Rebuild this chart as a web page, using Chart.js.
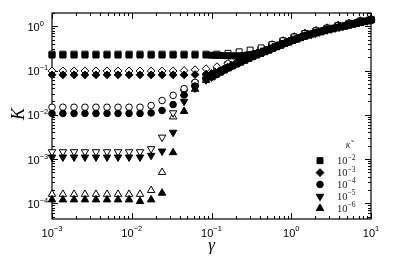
<!DOCTYPE html>
<html>
<head>
<meta charset="UTF-8">
<title>K vs gamma</title>
<script src="https://cdn.jsdelivr.net/npm/chart.js"></script>
<style>
  body { margin: 0; background: #fff; }
  canvas { display: block; }
</style>
</head>
<body>
<canvas id="grafico" width="399" height="260"></canvas>
<script>
// gamma values of the open symbols (coarse grid)
const gammaOpen = [0.001, 0.00137, 0.00189, 0.00259, 0.00356, 0.0049, 0.00673, 0.00925, 0.0127, 0.0175,
  0.024, 0.033, 0.0453, 0.0622, 0.0855, 0.117, 0.161, 0.222, 0.305, 0.419,
  0.575, 0.791, 1.09, 1.49, 2.05, 2.82, 3.87, 5.32, 7.31, 10.0];
// gamma values of the filled symbols (coarse, then dense above 0.1)
const gammaFilled = [0.001, 0.00137, 0.00189, 0.00259, 0.00356, 0.0049, 0.00673, 0.00925, 0.0127, 0.0175,
  0.024, 0.033, 0.0453, 0.0622, 0.0855,
  0.1, 0.112, 0.126, 0.141, 0.158, 0.178, 0.2, 0.224, 0.251, 0.282,
  0.316, 0.355, 0.398, 0.447, 0.501, 0.562, 0.631, 0.708, 0.794, 0.891,
  1.0, 1.12, 1.26, 1.41, 1.58, 1.78, 2.0, 2.24, 2.51, 2.82,
  3.16, 3.55, 3.98, 4.47, 5.01, 5.62, 6.31, 7.08, 7.94, 8.91, 10.0];

// kappa~ = 1e-2 (squares)
const kSqFilled = [0.224, 0.224, 0.224, 0.224, 0.224, 0.224, 0.224, 0.224, 0.224, 0.224,
  0.224, 0.224, 0.224, 0.224, 0.224,
  0.222, 0.221, 0.220, 0.218, 0.216, 0.215, 0.214, 0.215, 0.218, 0.224,
  0.232, 0.243, 0.257, 0.275, 0.297, 0.322, 0.350, 0.378, 0.41, 0.443,
  0.478, 0.512, 0.553, 0.592, 0.633, 0.67, 0.708, 0.748, 0.792, 0.838,
  0.876, 0.917, 0.96, 1.0, 1.05, 1.11, 1.16, 1.22, 1.27, 1.32, 1.38];
const kSqOpen = [0.235, 0.235, 0.235, 0.235, 0.235, 0.235, 0.235, 0.235, 0.235, 0.235,
  0.235, 0.235, 0.235, 0.235, 0.235, 0.235, 0.245, 0.265, 0.29, 0.325,
  0.385, 0.47, 0.575, 0.69, 0.79, 0.91, 1.04, 1.17, 1.31, 1.44];
// kappa~ = 1e-3 (diamonds)
const kDiFilled = [0.08, 0.08, 0.08, 0.08, 0.08, 0.08, 0.08, 0.08, 0.08, 0.08,
  0.08, 0.08, 0.08, 0.081, 0.083,
  0.086, 0.091, 0.099, 0.108, 0.119, 0.131, 0.144, 0.158, 0.173, 0.189,
  0.207, 0.227, 0.246, 0.266, 0.288, 0.312, 0.342, 0.37, 0.40, 0.434,
  0.47, 0.503, 0.545, 0.584, 0.626, 0.663, 0.702, 0.743, 0.787, 0.834,
  0.873, 0.914, 0.956, 1.0, 1.05, 1.11, 1.16, 1.22, 1.27, 1.32, 1.38];
const kDiOpen = [0.098, 0.098, 0.098, 0.098, 0.098, 0.098, 0.098, 0.098, 0.098, 0.098,
  0.098, 0.098, 0.1, 0.104, 0.11, 0.122, 0.145, 0.186, 0.238, 0.30,
  0.378, 0.466, 0.572, 0.69, 0.792, 0.91, 1.045, 1.172, 1.315, 1.44];
// kappa~ = 1e-4 (circles)
const kCiFilled = [0.0107, 0.0107, 0.0107, 0.0107, 0.0107, 0.0107, 0.0107, 0.0107, 0.0107, 0.011,
  0.0125, 0.017, 0.028, 0.0445, 0.063,
  0.0741, 0.0832, 0.0933, 0.104, 0.115, 0.127, 0.141, 0.155, 0.170, 0.186,
  0.204, 0.224, 0.243, 0.263, 0.285, 0.309, 0.339, 0.367, 0.398, 0.432,
  0.468, 0.501, 0.543, 0.582, 0.624, 0.661, 0.700, 0.741, 0.785, 0.832,
  0.871, 0.912, 0.955, 1.0, 1.05, 1.11, 1.16, 1.22, 1.27, 1.32, 1.38];
const kCiOpen = [0.0148, 0.0148, 0.0148, 0.0148, 0.0148, 0.0148, 0.0148, 0.0148, 0.0148, 0.0162,
  0.021, 0.0275, 0.039, 0.054, 0.076, 0.105, 0.141, 0.186, 0.24, 0.302,
  0.38, 0.468, 0.575, 0.692, 0.794, 0.912, 1.047, 1.175, 1.318, 1.445];
// kappa~ = 1e-5 (down triangles)
const kDnFilled = [0.0011, 0.0011, 0.0011, 0.0011, 0.0011, 0.0011, 0.0011, 0.0011, 0.0011, 0.0012,
  0.0015, 0.004, 0.02, 0.04, 0.061,
  0.071, 0.08, 0.09, 0.1, 0.111, 0.123, 0.137, 0.15, 0.165, 0.181,
  0.199, 0.218, 0.237, 0.257, 0.279, 0.303, 0.333, 0.361, 0.392, 0.426,
  0.462, 0.496, 0.538, 0.578, 0.62, 0.657, 0.697, 0.738, 0.782, 0.829,
  0.868, 0.91, 0.953, 0.998, 1.045, 1.105, 1.16, 1.215, 1.27, 1.315, 1.375];
const kDnOpen = [0.00145, 0.00145, 0.00145, 0.00145, 0.00145, 0.00145, 0.00145, 0.00145, 0.00145, 0.0017,
  0.0031, 0.011, 0.033, 0.052, 0.075, 0.104, 0.14, 0.185, 0.239, 0.301,
  0.379, 0.467, 0.574, 0.691, 0.793, 0.911, 1.046, 1.174, 1.317, 1.444];
// kappa~ = 1e-6 (up triangles)
const kUpFilled = [0.00012, 0.00012, 0.00012, 0.00012, 0.00012, 0.00012, 0.00012, 0.00012, 0.00011, 0.00012,
  0.00017, 0.0014, 0.012, 0.038, 0.06,
  0.069, 0.078, 0.088, 0.098, 0.109, 0.121, 0.134, 0.148, 0.163, 0.179,
  0.197, 0.216, 0.235, 0.255, 0.277, 0.301, 0.331, 0.359, 0.39, 0.424,
  0.46, 0.494, 0.536, 0.576, 0.618, 0.655, 0.695, 0.736, 0.78, 0.827,
  0.866, 0.908, 0.951, 0.996, 1.043, 1.103, 1.158, 1.213, 1.268, 1.313, 1.373];
const kUpOpen = [0.00016, 0.00016, 0.00016, 0.00016, 0.00016, 0.00016, 0.00016, 0.00016, 0.00016, 0.000195,
  0.0005, 0.009, 0.03, 0.051, 0.074, 0.104, 0.14, 0.185, 0.239, 0.301,
  0.379, 0.467, 0.574, 0.691, 0.793, 0.911, 1.046, 1.174, 1.317, 1.444];

// tick labels (powers of ten) and legend entries
const xTickExp = [-3, -2, -1, 0, 1];
const yTickExp = [0, -1, -2, -3, -4];
const kappaExp = [-2, -3, -4, -5, -6];

const estilos = [
  { style: 'rect', radius: 4.2, rotation: 0 },
  { style: 'rectRot', radius: 3.9, rotation: 0 },
  { style: 'circle', radius: 3.3, rotation: 0 },
  { style: 'triangle', radius: 4.3, rotation: 180 },
  { style: 'triangle', radius: 4.3, rotation: 0 }
];

function serie(xs, ys) {
  return xs.map((g, i) => ({ x: g, y: ys[i] }));
}

const llenos = [kSqFilled, kDiFilled, kCiFilled, kDnFilled, kUpFilled];
const vacios = [kSqOpen, kDiOpen, kCiOpen, kDnOpen, kUpOpen];

const datasets = [];
// filled first -> drawn on top
llenos.forEach((ys, i) => {
  datasets.push({
    data: serie(gammaFilled, ys),
    pointStyle: estilos[i].style,
    pointRadius: estilos[i].radius,
    rotation: estilos[i].rotation,
    backgroundColor: '#000',
    borderColor: '#000',
    borderWidth: 1,
    clip: false
  });
});
vacios.forEach((ys, i) => {
  datasets.push({
    data: serie(gammaOpen, ys),
    pointStyle: estilos[i].style,
    pointRadius: estilos[i].radius,
    rotation: estilos[i].rotation,
    backgroundColor: '#fff',
    borderColor: '#000',
    borderWidth: 1,
    clip: false
  });
});

function dibujarPotencia(ctx, exp, x, y, align, baseFont, expFont, expDy) {
  ctx.font = baseFont;
  const wb = ctx.measureText('10').width;
  const txt = exp < 0 ? '\u2212' + Math.abs(exp) : String(exp);
  ctx.font = expFont;
  const we = ctx.measureText(txt).width;
  let x0 = x;
  if (align === 'center') x0 = x - (wb + we) / 2;
  ctx.textAlign = 'left';
  ctx.textBaseline = 'middle';
  ctx.font = baseFont;
  ctx.fillText('10', x0, y);
  ctx.font = expFont;
  ctx.fillText(txt, x0 + wb, y + expDy);
}

function marcador(ctx, st, x, y) {
  const r = st.radius;
  ctx.beginPath();
  if (st.style === 'rect') {
    const s = r * Math.SQRT1_2;
    ctx.rect(x - s, y - s, 2 * s, 2 * s);
  } else if (st.style === 'rectRot') {
    ctx.moveTo(x, y - r); ctx.lineTo(x + r, y); ctx.lineTo(x, y + r); ctx.lineTo(x - r, y);
    ctx.closePath();
  } else if (st.style === 'circle') {
    ctx.arc(x, y, r, 0, Math.PI * 2);
  } else {
    const d = st.rotation ? -1 : 1;
    const h = Math.sqrt(3) / 2 * r;
    ctx.moveTo(x, y - d * r);
    ctx.lineTo(x + h, y + d * r / 2);
    ctx.lineTo(x - h, y + d * r / 2);
    ctx.closePath();
  }
  ctx.fill();
  ctx.stroke();
}

const ejes = {
  id: 'ejes',
  beforeDatasetsDraw(chart) {
    const { ctx, chartArea: a, scales } = chart;
    ctx.save();
    ctx.strokeStyle = '#000';
    ctx.lineWidth = 1.2;
    ctx.strokeRect(a.left, a.top, a.right - a.left, a.bottom - a.top);
    ctx.lineWidth = 1;
    ctx.beginPath();
    for (let e = -3; e <= 1; e++) {
      for (let m = 1; m <= 9; m++) {
        const v = m * Math.pow(10, e);
        if (v > 10.0001) continue;
        const px = Math.round(scales.x.getPixelForValue(v)) + 0.5;
        const len = m === 1 ? 6 : 3;
        ctx.moveTo(px, a.bottom); ctx.lineTo(px, a.bottom - len);
        ctx.moveTo(px, a.top); ctx.lineTo(px, a.top + len);
      }
    }
    for (let e = -5; e <= 0; e++) {
      for (let m = 1; m <= 9; m++) {
        const v = m * Math.pow(10, e);
        if (v < scales.y.min || v > scales.y.max) continue;
        const py = Math.round(scales.y.getPixelForValue(v)) + 0.5;
        const len = m === 1 ? 6 : 3;
        ctx.moveTo(a.left, py); ctx.lineTo(a.left + len, py);
        ctx.moveTo(a.right, py); ctx.lineTo(a.right - len, py);
      }
    }
    ctx.stroke();
    ctx.restore();
  },
  afterDraw(chart) {
    const { ctx, chartArea: a, scales } = chart;
    ctx.save();
    ctx.fillStyle = '#000';
    const fBase = '11px "Liberation Sans", Arial, sans-serif';
    const fExp = '7.5px "Liberation Sans", Arial, sans-serif';
    xTickExp.forEach(e => {
      const px = scales.x.getPixelForValue(Math.pow(10, e));
      dibujarPotencia(ctx, e, px, a.bottom + 15, 'center', fBase, fExp, -5);
    });
    yTickExp.forEach(e => {
      const py = scales.y.getPixelForValue(Math.pow(10, e));
      dibujarPotencia(ctx, e, 27.5, py + 1.5, 'left', fBase, fExp, -4);
    });
    // axis titles
    ctx.font = 'italic 17px "Liberation Serif", "DejaVu Serif", serif';
    ctx.textAlign = 'center';
    ctx.textBaseline = 'middle';
    ctx.fillText('\u03b3', (a.left + a.right) / 2, 246);
    ctx.save();
    ctx.translate(19, 114);
    ctx.rotate(-Math.PI / 2);
    ctx.font = 'italic 18px "Liberation Serif", "DejaVu Serif", serif';
    ctx.fillText('K', 0, 0);
    ctx.restore();
    // legend
    ctx.fillStyle = '#222';
    ctx.font = 'italic 9.5px "Liberation Serif", "DejaVu Serif", serif';
    ctx.fillText('\u03ba\u0303', 348, 145);
    ctx.strokeStyle = '#000';
    ctx.lineWidth = 1;
    kappaExp.forEach((e, i) => {
      const y = 160.7 + i * 11.9;
      ctx.fillStyle = '#000';
      marcador(ctx, estilos[i], 320, y);
      ctx.fillStyle = '#222';
      dibujarPotencia(ctx, e, 337, y + 1,
        'left', '10.5px "Liberation Serif", serif', '7.5px "Liberation Serif", serif', -4);
    });
    ctx.restore();
  }
};

new Chart(document.getElementById('grafico'), {
  type: 'scatter',
  data: { datasets: datasets },
  options: {
    responsive: false,
    animation: false,
    events: [],
    layout: { padding: { left: 52, right: 28, top: 13, bottom: 41 } },
    scales: {
      x: { type: 'logarithmic', min: 0.001, max: 10, display: false },
      y: { type: 'logarithmic', min: 4.4e-5, max: 2.0, display: false }
    },
    plugins: { legend: { display: false }, tooltip: { enabled: false } }
  },
  plugins: [ejes]
});
</script>
</body>
</html>
